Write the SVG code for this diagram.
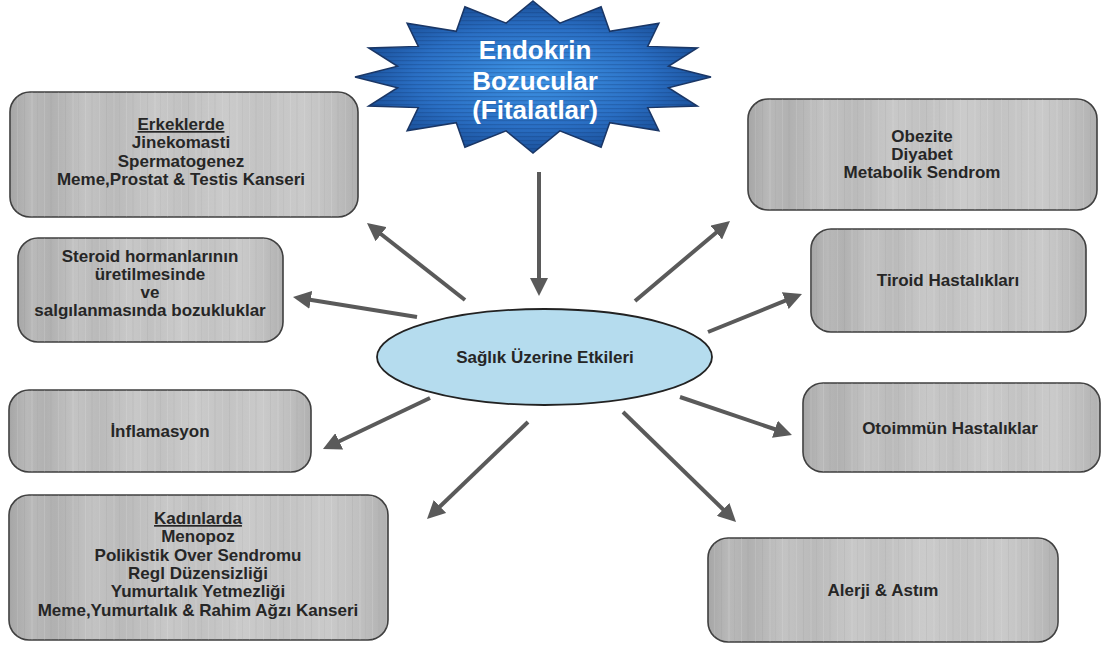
<svg xmlns="http://www.w3.org/2000/svg" width="1105" height="646" viewBox="0 0 1105 646">
<style>
.box{stroke:#3f3f3f;stroke-width:1.6}
.bt{font-family:"Liberation Sans",Arial,sans-serif;font-weight:bold;font-size:17px;fill:#262626;text-anchor:middle}
.st{font-family:"Liberation Sans",Arial,sans-serif;font-weight:bold;font-size:26px;fill:#ffffff;text-anchor:middle}
.con{stroke:#5a5a5a;stroke-width:4;fill:none;marker-end:url(#ah)}
</style>
<defs>
<linearGradient id="metal" x1="0" y1="0" x2="1" y2="0">
<stop offset="0" stop-color="#a6a6a6"/>
<stop offset="0.06" stop-color="#b9b9b9"/>
<stop offset="0.12" stop-color="#b1b1b1"/>
<stop offset="0.22" stop-color="#c3c3c3"/>
<stop offset="0.3" stop-color="#bababa"/>
<stop offset="0.42" stop-color="#c8c8c8"/>
<stop offset="0.5" stop-color="#c1c1c1"/>
<stop offset="0.62" stop-color="#cbcbcb"/>
<stop offset="0.72" stop-color="#c3c3c3"/>
<stop offset="0.84" stop-color="#cacaca"/>
<stop offset="0.93" stop-color="#bfbfbf"/>
<stop offset="1" stop-color="#b0b0b0"/>
</linearGradient>
<pattern id="streak" patternUnits="userSpaceOnUse" width="41" height="20">
<rect x="3" y="0" width="1" height="20" fill="#ffffff" opacity="0.12"/>
<rect x="9" y="0" width="2" height="20" fill="#8a8a8a" opacity="0.08"/>
<rect x="17" y="0" width="1" height="20" fill="#ffffff" opacity="0.1"/>
<rect x="24" y="0" width="1" height="20" fill="#7a7a7a" opacity="0.1"/>
<rect x="31" y="0" width="2" height="20" fill="#ffffff" opacity="0.08"/>
<rect x="37" y="0" width="1" height="20" fill="#888888" opacity="0.1"/>
</pattern>
<radialGradient id="blue" cx="0.5" cy="0.5" r="0.6">
<stop offset="0" stop-color="#3f95e6"/>
<stop offset="0.55" stop-color="#2a6fc4"/>
<stop offset="1" stop-color="#123f82"/>
</radialGradient>
<pattern id="hstripe" patternUnits="userSpaceOnUse" width="10" height="4">
<rect x="0" y="0" width="10" height="1.3" fill="#0b2a5c" opacity="0.22"/>
</pattern>
<marker id="ah" markerUnits="userSpaceOnUse" viewBox="0 0 18 18" markerWidth="18" markerHeight="18" refX="4" refY="9" orient="auto">
<path d="M0,0 L18,9 L0,18 z" fill="#5a5a5a"/>
</marker>
</defs>
<rect x="0" y="0" width="1105" height="646" fill="#ffffff"/>

<g id="connectors">
<line class="con" x1="539" y1="172" x2="539" y2="282"/>
<line class="con" x1="465" y1="300" x2="378" y2="231.7"/>
<line class="con" x1="417" y1="317" x2="306.8" y2="299.2"/>
<line class="con" x1="635" y1="301" x2="719.3" y2="230"/>
<line class="con" x1="708" y1="332" x2="789" y2="299.2"/>
<line class="con" x1="430" y1="398" x2="335.6" y2="443"/>
<line class="con" x1="528" y1="422" x2="437.1" y2="509.3"/>
<line class="con" x1="680" y1="397" x2="778.7" y2="430.5"/>
<line class="con" x1="623" y1="412" x2="726" y2="512.2"/>
</g>

<g id="star">
<polygon points="533,1 559.9,23.1 601.1,6.8 609.7,31.3 658.9,23.3 647.7,46.4 697.4,47.9 668.4,66.3 711,77 668.4,87.7 697.4,106.1 647.7,107.6 658.9,130.7 609.7,122.7 601.1,147.2 559.9,130.9 533,153 506.1,130.9 464.9,147.2 456.3,122.7 407.1,130.7 418.3,107.6 368.6,106.1 397.6,87.7 355,77 397.6,66.3 368.6,47.9 418.3,46.4 407.1,23.3 456.3,31.3 464.9,6.8 506.1,23.1" fill="url(#blue)" stroke="#1b3766" stroke-width="1.5"/>
<polygon points="533,1 559.9,23.1 601.1,6.8 609.7,31.3 658.9,23.3 647.7,46.4 697.4,47.9 668.4,66.3 711,77 668.4,87.7 697.4,106.1 647.7,107.6 658.9,130.7 609.7,122.7 601.1,147.2 559.9,130.9 533,153 506.1,130.9 464.9,147.2 456.3,122.7 407.1,130.7 418.3,107.6 368.6,106.1 397.6,87.7 355,77 397.6,66.3 368.6,47.9 418.3,46.4 407.1,23.3 456.3,31.3 464.9,6.8 506.1,23.1" fill="url(#hstripe)"/>
<text class="st" x="535" y="59">Endokrin</text>
<text class="st" x="535" y="90">Bozucular</text>
<text class="st" x="535" y="119">(Fitalatlar)</text>
</g>

<g id="center">
<ellipse cx="544.5" cy="357" rx="167.5" ry="48" fill="#b5dcee" stroke="#222222" stroke-width="1.8"/>
<text class="bt" x="545" y="363">Sağlık Üzerine Etkileri</text>
</g>

<g id="erkeklerde">
<rect class="box" x="10" y="92" width="348" height="125" rx="20" fill="url(#metal)"/>
<rect x="10" y="92" width="348" height="125" rx="20" fill="url(#streak)"/>
<text class="bt" x="181" y="130" text-decoration="underline">Erkeklerde</text>
<text class="bt" x="181" y="148">Jinekomasti</text>
<text class="bt" x="181" y="167">Spermatogenez</text>
<text class="bt" x="181" y="185">Meme,Prostat &amp; Testis Kanseri</text>
</g>

<g id="steroid">
<rect class="box" x="18" y="238" width="265" height="104" rx="20" fill="url(#metal)"/>
<rect x="18" y="238" width="265" height="104" rx="20" fill="url(#streak)"/>
<text class="bt" x="150" y="262">Steroid hormanlarının</text>
<text class="bt" x="150" y="280">üretilmesinde</text>
<text class="bt" x="150" y="298">ve</text>
<text class="bt" x="150" y="316">salgılanmasında bozukluklar</text>
</g>

<g id="inflamasyon">
<rect class="box" x="9" y="390" width="302" height="82" rx="20" fill="url(#metal)"/>
<rect x="9" y="390" width="302" height="82" rx="20" fill="url(#streak)"/>
<text class="bt" x="160" y="437">İnflamasyon</text>
</g>

<g id="kadinlarda">
<rect class="box" x="9" y="495" width="379" height="145" rx="20" fill="url(#metal)"/>
<rect x="9" y="495" width="379" height="145" rx="20" fill="url(#streak)"/>
<text class="bt" x="198" y="524" text-decoration="underline">Kadınlarda</text>
<text class="bt" x="198" y="542">Menopoz</text>
<text class="bt" x="198" y="561">Polikistik Over Sendromu</text>
<text class="bt" x="198" y="579">Regl Düzensizliği</text>
<text class="bt" x="198" y="597">Yumurtalık Yetmezliği</text>
<text class="bt" x="198" y="616">Meme,Yumurtalık &amp; Rahim Ağzı Kanseri</text>
</g>

<g id="obezite">
<rect class="box" x="748" y="99" width="349" height="111" rx="20" fill="url(#metal)"/>
<rect x="748" y="99" width="349" height="111" rx="20" fill="url(#streak)"/>
<text class="bt" x="922" y="142">Obezite</text>
<text class="bt" x="922" y="160">Diyabet</text>
<text class="bt" x="922" y="178">Metabolik Sendrom</text>
</g>

<g id="tiroid">
<rect class="box" x="811" y="229" width="275" height="103" rx="20" fill="url(#metal)"/>
<rect x="811" y="229" width="275" height="103" rx="20" fill="url(#streak)"/>
<text class="bt" x="948" y="286">Tiroid Hastalıkları</text>
</g>

<g id="otoimmun">
<rect class="box" x="803" y="383" width="297" height="89" rx="20" fill="url(#metal)"/>
<rect x="803" y="383" width="297" height="89" rx="20" fill="url(#streak)"/>
<text class="bt" x="950" y="434">Otoimmün Hastalıklar</text>
</g>

<g id="alerji">
<rect class="box" x="708" y="538" width="350" height="104" rx="20" fill="url(#metal)"/>
<rect x="708" y="538" width="350" height="104" rx="20" fill="url(#streak)"/>
<text class="bt" x="883" y="596">Alerji &amp; Astım</text>
</g>
</svg>
